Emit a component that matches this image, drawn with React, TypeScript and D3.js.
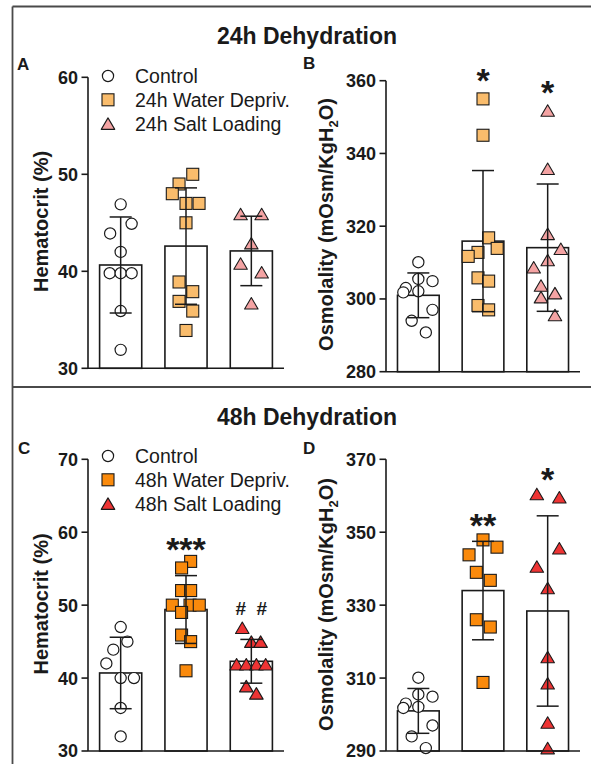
import React from "react";
import * as d3 from "d3";

// ---------- categories & labels ----------
const groups24 = ["Control", "24h Water Depriv.", "24h Salt Loading"];
const groups48 = ["Control", "48h Water Depriv.", "48h Salt Loading"];
const titles = ["24h Dehydration", "48h Dehydration"];

// ---------- tick labels ----------
const ticksA = [30, 40, 50, 60];
const ticksB = [280, 300, 320, 340, 360];
const ticksC = [30, 40, 50, 60, 70];
const ticksD = [290, 310, 330, 350, 370];

// ---------- Panel A : Hematocrit 24h ----------
const hctCtrl24 = [46.9, 44.9, 43.9, 42.0, 39.8, 39.8, 39.8, 35.9, 31.9];
const hctCtrl24Jit = [0, 0.52, -0.5, 0, -0.52, 0, 0.52, 0, 0];
const hctWater24 = [50.0, 49.0, 48.0, 47.0, 47.0, 45.0, 38.9, 37.9, 36.9, 35.9, 33.9];
const hctWater24Jit = [0.32, -0.33, -0.65, 0, 0.62, 0, -0.33, 0.32, -0.33, 0.32, 0];
const hctSalt24 = [45.9, 45.9, 42.9, 40.8, 39.9, 36.7];
const hctSalt24Jit = [-0.51, 0.49, 0, -0.51, 0.49, 0];
const hct24Mean = [40.65, 42.6, 42.1];
const hct24SD = [4.95, 6.0, 3.58];
const sigA = ["", "", ""];

// ---------- Panel B : Osmolality 24h ----------
const osmCtrl = [310.1, 305.5, 304.9, 303.0, 301.8, 302.1, 297.0, 294.0, 290.8];
const osmCtrlJit = [0, 0, 0.68, -0.6, -0.72, 0, 0.68, -0.32, 0.36];
const osmWater24 = [355.0, 345.0, 316.8, 313.9, 312.8, 311.7, 305.8, 304.9, 298.2, 297.0];
const osmWater24Jit = [0, 0, 0.27, 0.68, -0.24, -0.71, -0.24, 0.27, -0.24, 0.27];
const osmSalt24 = [351.8, 335.8, 317.9, 313.8, 310.7, 308.7, 303.7, 301.6, 300.5, 295.6];
const osmSalt24Jit = [0, 0, 0, 0.63, 0, -0.67, -0.32, 0.35, -0.32, 0.35];
const osm24Mean = [301.0, 315.9, 314.1];
const osm24SD = [6.15, 19.4, 17.5];
const sigB = ["", "*", "*"];

// ---------- Panel C : Hematocrit 48h ----------
const hctCtrl48 = [47.0, 45.0, 43.9, 42.0, 40.0, 40.0, 35.9, 32.0];
const hctCtrl48Jit = [0, 0.32, -0.35, -0.68, 0, 0.63, 0, 0];
const hctWater48 = [56.0, 55.1, 52.0, 52.0, 50.0, 50.0, 50.0, 49.0, 45.9, 45.0, 41.0];
const hctWater48Jit = [0.22, -0.21, -0.21, 0.22, -0.65, 0.19, 0.63, -0.21, -0.21, 0.22, 0];
const hctSalt48 = [46.9, 45.0, 45.0, 41.9, 41.9, 41.9, 41.9, 38.9, 37.9];
const hctSalt48Jit = [-0.43, 0, 0.44, -0.7, -0.24, 0.24, 0.68, -0.24, 0.24];
const hct48Mean = [40.7, 49.4, 42.3];
const hct48SD = [4.9, 4.65, 3.0];
const sigC = ["", "***", "#\u00A0\u00A0#"];

// ---------- Panel D : Osmolality 48h ----------
const osmWater48 = [347.9, 345.9, 343.8, 339.0, 336.8, 326.0, 324.0, 308.8];
const osmWater48Jit = [0, 0.67, -0.67, -0.32, 0.35, -0.32, 0.35, 0];
const osmSalt48 = [360.5, 359.6, 345.6, 340.6, 334.7, 315.8, 308.6, 297.8, 290.8];
const osmSalt48Jit = [-0.52, 0.56, 0.56, -0.52, 0, 0, 0, 0, 0];
const osm48Mean = [301.0, 334.0, 328.4];
const osm48SD = [6.15, 13.5, 26.1];
const sigD = ["", "**", "*"];

// ---------- styles ----------
const FONT = "'Liberation Sans', Arial, Helvetica, sans-serif";
const colors24 = ["#ffffff", "#F9BC6C", "#F4A3A3"];
const colors48 = ["#ffffff", "#FA8A0C", "#EE3434"];
const shapes = ["circle", "square", "triangle"];
const INK = "#1a1a1a";

type PanelCfg = {
  letter: string;
  groups: string[];
  colors: string[];
  values: number[][];
  jitter: number[][];
  means: number[];
  sds: number[];
  sig: string[];
  domain: [number, number];
  ticks: number[];
  x0: number;
  x1: number;
  yTop: number;
  yBottom: number;
  yLabel: string;
  ySub?: [string, string, string];
  labelX: number;
  labelY: number;
  letterX: number;
  letterY: number;
  legendY?: number;
  sigGap: number;
};

const panels: PanelCfg[] = [
  {
    letter: "A", groups: groups24, colors: colors24,
    values: [hctCtrl24, hctWater24, hctSalt24],
    jitter: [hctCtrl24Jit, hctWater24Jit, hctSalt24Jit],
    means: hct24Mean, sds: hct24SD, sig: sigA,
    domain: [30, 60], ticks: ticksA,
    x0: 88, x1: 284, yTop: 77.3, yBottom: 368.3,
    yLabel: "Hematocrit (%)", labelX: 48, labelY: 221.5,
    letterX: 17, letterY: 70, legendY: 76, sigGap: 26,
  },
  {
    letter: "B", groups: groups24, colors: colors24,
    values: [osmCtrl, osmWater24, osmSalt24],
    jitter: [osmCtrlJit, osmWater24Jit, osmSalt24Jit],
    means: osm24Mean, sds: osm24SD, sig: sigB,
    domain: [280, 360], ticks: ticksB,
    x0: 386, x1: 580, yTop: 80.7, yBottom: 371.7,
    yLabel: "", ySub: ["Osmolality (mOsm/KgH", "2", "O)"], labelX: 333, labelY: 224.5,
    letterX: 303, letterY: 69, sigGap: 26,
  },
  {
    letter: "C", groups: groups48, colors: colors48,
    values: [hctCtrl48, hctWater48, hctSalt48],
    jitter: [hctCtrl48Jit, hctWater48Jit, hctSalt48Jit],
    means: hct48Mean, sds: hct48SD, sig: sigC,
    domain: [30, 70], ticks: ticksC,
    x0: 88, x1: 284, yTop: 459.3, yBottom: 751,
    yLabel: "Hematocrit (%)", labelX: 48, labelY: 604,
    letterX: 18, letterY: 454, legendY: 456, sigGap: 19,
  },
  {
    letter: "D", groups: groups48, colors: colors48,
    values: [osmCtrl, osmWater48, osmSalt48],
    jitter: [osmCtrlJit, osmWater48Jit, osmSalt48Jit],
    means: osm48Mean, sds: osm48SD, sig: sigD,
    domain: [290, 370], ticks: ticksD,
    x0: 386, x1: 580, yTop: 459.3, yBottom: 751,
    yLabel: "", ySub: ["Osmolality (mOsm/KgH", "2", "O)"], labelX: 333, labelY: 604.5,
    letterX: 303, letterY: 454, sigGap: 22,
  },
];

function Marker({ shape, cx, cy, fill }: { shape: string; cx: number; cy: number; fill: string }) {
  if (shape === "circle") {
    return <circle cx={cx} cy={cy} r={5.6} fill="#ffffff" stroke={INK} strokeWidth={1.2} />;
  }
  if (shape === "square") {
    const s = 12;
    return <rect x={cx - s / 2} y={cy - s / 2} width={s} height={s} fill={fill} stroke={INK} strokeWidth={1.1} />;
  }
  const w = 13.5, h = 11.5;
  const p = d3.path();
  p.moveTo(cx, cy - h / 2);
  p.lineTo(cx + w / 2, cy + h / 2);
  p.lineTo(cx - w / 2, cy + h / 2);
  p.closePath();
  return <path d={p.toString()} fill={fill} stroke={INK} strokeWidth={1.1} strokeLinejoin="round" />;
}

function Panel({ cfg }: { cfg: PanelCfg }) {
  const y = d3.scaleLinear().domain(cfg.domain).range([cfg.yBottom, cfg.yTop]);
  const x = d3.scalePoint<string>().domain(cfg.groups).range([cfg.x0, cfg.x1]).padding(0.5);
  const bw = x.step() * 0.645;
  const jit = d3.scaleLinear().domain([-1, 1]).range([-bw / 2, bw / 2]);
  const capW = 22;

  return (
    <g>
      {/* bars */}
      {cfg.groups.map((g, i) => {
        const cx = x(g)!;
        return (
          <rect key={"bar" + i} x={cx - bw / 2} y={y(cfg.means[i])} width={bw}
            height={cfg.yBottom - y(cfg.means[i])} fill="#ffffff" stroke={INK} strokeWidth={1.6} />
        );
      })}
      {/* points */}
      {cfg.groups.map((g, i) =>
        cfg.values[i].map((v, j) => (
          <Marker key={"pt" + i + "-" + j} shape={shapes[i]} cx={x(g)! + jit(cfg.jitter[i][j])} cy={y(v)} fill={cfg.colors[i]} />
        ))
      )}
      {/* error bars */}
      {cfg.groups.map((g, i) => {
        const cx = x(g)!;
        const hi = y(cfg.means[i] + cfg.sds[i]);
        const lo = y(cfg.means[i] - cfg.sds[i]);
        return (
          <g key={"err" + i} stroke={INK} strokeWidth={1.5}>
            <line x1={cx} x2={cx} y1={hi} y2={lo} />
            <line x1={cx - capW / 2} x2={cx + capW / 2} y1={hi} y2={hi} />
            <line x1={cx - capW / 2} x2={cx + capW / 2} y1={lo} y2={lo} />
          </g>
        );
      })}
      {/* significance marks */}
      {cfg.groups.map((g, i) => {
        const s = cfg.sig[i];
        if (!s) return null;
        const top = y(d3.max(cfg.values[i])!);
        const c = top - cfg.sigGap;
        const isHash = s.indexOf("#") >= 0;
        const fs = isHash ? 19 : 34;
        const base = c + (isHash ? 0.35 : 0.56) * fs;
        return (
          <text key={"sig" + i} x={x(g)!} y={base} textAnchor="middle" fontFamily={FONT}
            fontWeight="bold" fontSize={fs} fill={INK}>{s}</text>
        );
      })}
      {/* axes */}
      <line x1={cfg.x0} x2={cfg.x0} y1={cfg.yTop} y2={cfg.yBottom} stroke={INK} strokeWidth={1.6} />
      <line x1={cfg.x0} x2={cfg.x1} y1={cfg.yBottom} y2={cfg.yBottom} stroke={INK} strokeWidth={1.6} />
      {cfg.ticks.map((t) => (
        <g key={"t" + t}>
          <line x1={cfg.x0 - 6.5} x2={cfg.x0} y1={y(t)} y2={y(t)} stroke={INK} strokeWidth={1.6} />
          <text x={cfg.x0 - 10} y={y(t)} dy="0.36em" textAnchor="end" fontFamily={FONT}
            fontWeight="bold" fontSize={18} fill={INK}>{t}</text>
        </g>
      ))}
      {/* y label */}
      <text transform={`translate(${cfg.labelX},${cfg.labelY}) rotate(-90)`} textAnchor="middle"
        fontFamily={FONT} fontWeight="bold" fontSize={20} fill={INK}>
        {cfg.ySub ? (
          <>
            {cfg.ySub[0]}
            <tspan fontSize={13} dy={5}>{cfg.ySub[1]}</tspan>
            <tspan dy={-5}>{cfg.ySub[2]}</tspan>
          </>
        ) : cfg.yLabel}
      </text>
      {/* panel letter */}
      <text x={cfg.letterX} y={cfg.letterY} fontFamily={FONT} fontWeight="bold" fontSize={17} fill={INK}>{cfg.letter}</text>
      {/* legend */}
      {cfg.legendY !== undefined && cfg.groups.map((g, i) => {
        const ly = cfg.legendY! + i * 23.8;
        return (
          <g key={"lg" + i}>
            <Marker shape={shapes[i]} cx={108} cy={ly} fill={cfg.colors[i]} />
            <text x={135} y={ly} dy="0.36em" fontFamily={FONT} fontSize={19.5} fill={INK}>{g}</text>
          </g>
        );
      })}
    </g>
  );
}

export default function App() {
  return (
    <svg width={591} height={764} style={{ position: "absolute", left: 0, top: 0, display: "block", background: "#ffffff" }}>
      <rect x={0} y={0} width={591} height={764} fill="#ffffff" />
      {/* frame */}
      <g stroke="#4a4a4a" strokeWidth={1.8} fill="none">
        <line x1={12.5} x2={12.5} y1={6.5} y2={764} />
        <line x1={12.5} x2={591} y1={6.5} y2={6.5} />
        <line x1={12.5} x2={591} y1={387} y2={387} />
      </g>
      <text x={307} y={44} textAnchor="middle" fontFamily={FONT} fontWeight="bold" fontSize={23} fill={INK}>{titles[0]}</text>
      <text x={307} y={425} textAnchor="middle" fontFamily={FONT} fontWeight="bold" fontSize={23} fill={INK}>{titles[1]}</text>
      {panels.map((p) => (
        <Panel key={p.letter} cfg={p} />
      ))}
    </svg>
  );
}
